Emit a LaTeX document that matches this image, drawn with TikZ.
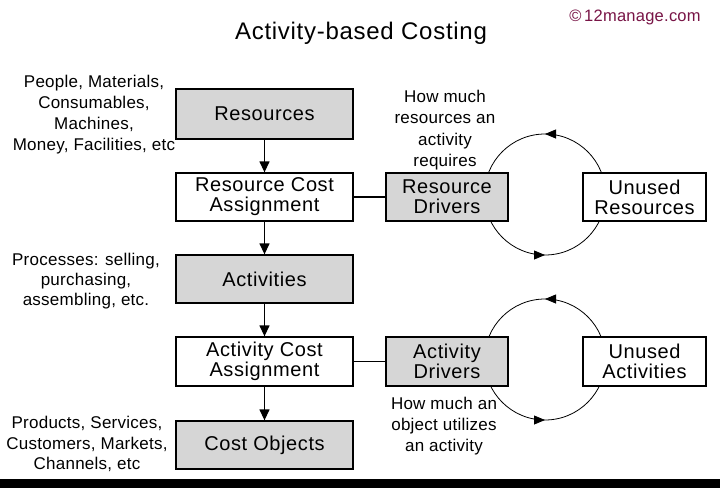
\documentclass[tikz,border=0pt]{standalone}
\usepackage{fontspec}
\setmainfont[LetterSpace=3]{Liberation Sans}
\newfontfamily\lblfont[LetterSpace=1.5]{Liberation Sans}
\usetikzlibrary{arrows.meta,decorations.markings}
\definecolor{boxgray}{RGB}{214,214,214}
\definecolor{copyc}{RGB}{120,20,70}
\tikzset{
  box/.style={draw=black,line width=1.3pt,inner sep=0pt,align=center,
    minimum width=177pt,minimum height=48pt,font=\fontsize{20}{20}\selectfont},
  graybox/.style={box,fill=boxgray},
  whitebox/.style={box,fill=white},
  smallbox/.style={minimum width=122pt},
  lbl/.style={align=center,inner sep=0pt,font=\lblfont\fontsize{17}{21}\selectfont},
  flow/.style={line width=1.3pt,-{Triangle[length=11pt,width=10pt]}},
  link/.style={line width=1.2pt},
  cyc/.style={line width=0.8pt,postaction={decorate},
    decoration={markings,mark=at position 0.5 with {\arrow{Triangle[length=11pt,width=9pt]}}}}
}
\begin{document}
\begin{tikzpicture}[x=1pt,y=-1pt]
\useasboundingbox (0,0) rectangle (720,488);
\fill[white] (0,0) rectangle (720,488);
\fill[black] (0,479) rectangle (720,488);

% cycles (drawn first, boxes cover their sides)
\coordinate (c1) at (545,194.5);
\coordinate (c2) at (545,359.5);
\draw[cyc] (c1) ++(0:60.5) arc[start angle=0,end angle=-180,radius=60.5];
\draw[cyc] (c1) ++(180:60.5) arc[start angle=180,end angle=0,radius=60.5];
\draw[cyc] (c2) ++(0:60.5) arc[start angle=0,end angle=-180,radius=60.5];
\draw[cyc] (c2) ++(180:60.5) arc[start angle=180,end angle=0,radius=60.5];

% title
\node[font=\fontsize{24}{24}\selectfont,inner sep=0pt] (title) at (361,33) {Activity-based Costing};
\node[font=\lblfont\fontsize{16.5}{17}\selectfont,text=copyc,inner sep=0pt] (copy) at (635,17) {©\,12manage.com};

% main column
\node[graybox,minimum height=50pt] (res) at (264.5,114) {Resources};
\node[whitebox] (rca) at (264.5,197) {Resource Cost\\Assignment};
\node[graybox] (act) at (264.5,279) {Activities};
\node[whitebox,minimum height=49pt] (aca) at (264.5,361.5) {Activity Cost\\Assignment};
\node[graybox] (cost) at (264.5,445) {Cost Objects};

% drivers
\node[graybox,smallbox] (rd) at (447,197) {Resource\\Drivers};
\node[whitebox,smallbox,minimum width=123pt] (ur) at (644.5,197) {Unused\\Resources};
\node[graybox,smallbox,minimum height=49pt] (ad) at (447,361.5) {Activity\\Drivers};
\node[whitebox,smallbox,minimum width=123pt,minimum height=49pt] (ua) at (644.5,361.5) {Unused\\Activities};

% connectors
\draw[flow] (res) -- (rca);
\draw[flow] (rca) -- (act);
\draw[flow] (act) -- (aca);
\draw[flow] (aca) -- (cost);
\draw[link] (rca) -- (rd);
\draw[link] (aca) -- (ad);

% labels
\node[lbl] (lpeople) at (94,115) {People, Materials,\\Consumables,\\Machines,\\Money, Facilities, etc};
\node[lbl,font=\lblfont\fontsize{17}{21.5}\selectfont] (lhowres) at (445,130) {How much\\resources an\\activity\\requires};
\node[lbl,font=\lblfont\fontsize{17}{20}\selectfont] (lproc) at (86,281) {Processes: selling,\\purchasing,\\assembling, etc.};
\node[lbl,font=\lblfont\fontsize{17}{20.5}\selectfont] (lprod) at (87,444) {Products, Services,\\Customers, Markets,\\Channels, etc};
\node[lbl] (lhowobj) at (444,426) {How much an\\object utilizes\\an activity};
\end{tikzpicture}
\end{document}
